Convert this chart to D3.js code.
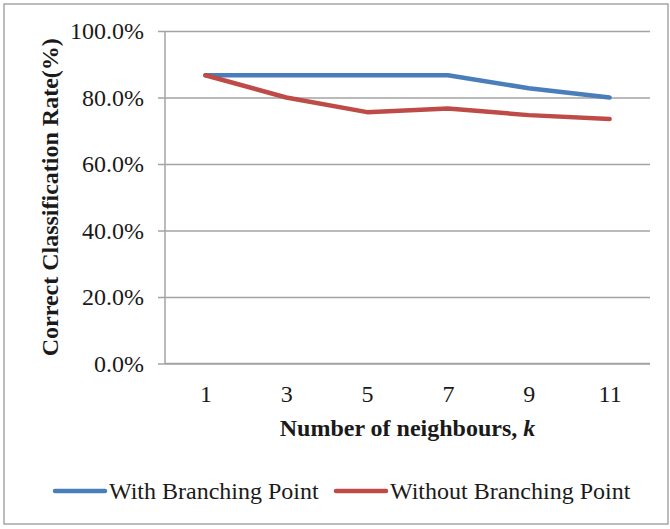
<!DOCTYPE html>
<html>
<head>
<meta charset="utf-8">
<script src="https://cdn.jsdelivr.net/npm/d3@7"></script>
<style>
  html, body { margin: 0; padding: 0; background: #fff; }
  svg { display: block; }
  text { font-family: "Liberation Serif", "Times New Roman", serif; fill: #1a1a1a; }
</style>
</head>
<body>
<svg id="chart" width="670" height="529"></svg>
<script>
// Classification rate versus number of neighbours k
const kValues = ["1", "3", "5", "7", "9", "11"];
const withBranching = [0.867, 0.867, 0.867, 0.867, 0.828, 0.800];
const withoutBranching = [0.867, 0.800, 0.756, 0.767, 0.747, 0.735];
const yTicks = [0, 0.2, 0.4, 0.6, 0.8, 1.0];
const seriesNames = ["With Branching Point", "Without Branching Point"];
const seriesColors = ["#4a7ebb", "#be4b48"];

const svg = d3.select("#chart");
const plot = { left: 165, right: 650, top: 31, bottom: 363.5 };
const gridColor = "#a3a3a3";

// outer frame
svg.append("rect")
  .attr("x", 4).attr("y", 4)
  .attr("width", 664).attr("height", 520)
  .attr("fill", "#fff")
  .attr("stroke", "#a6a6a6")
  .attr("stroke-width", 1.5);

const x = d3.scalePoint().domain(kValues).range([plot.left, plot.right]).padding(0.5);
const y = d3.scaleLinear().domain([0, 1]).range([plot.bottom, plot.top]);

// horizontal gridlines with short outward ticks
const yAxis = d3.axisLeft(y)
  .tickValues(yTicks)
  .tickSizeInner(-(plot.right - plot.left))
  .tickSizeOuter(0)
  .tickFormat(d3.format(".1%"))
  .tickPadding(14);
const gy = svg.append("g").attr("transform", `translate(${plot.left},0)`).call(yAxis);
gy.select(".domain").remove();
gy.selectAll(".tick line")
  .attr("x1", -7)
  .attr("stroke", gridColor)
  .attr("stroke-width", 1.5);
gy.selectAll(".tick text")
  .attr("x", 144 - plot.left)
  .attr("font-size", 24)
  .attr("font-family", "Liberation Serif, Times New Roman, serif")
  .attr("fill", "#1a1a1a");

// vertical axis line
svg.append("line")
  .attr("x1", plot.left).attr("x2", plot.left)
  .attr("y1", plot.top).attr("y2", plot.bottom)
  .attr("stroke", gridColor).attr("stroke-width", 1.5);

// category axis
const xAxis = d3.axisBottom(x).tickSize(0).tickPadding(0);
const gx = svg.append("g").attr("transform", `translate(0,${plot.bottom})`).call(xAxis);
gx.select(".domain")
  .attr("d", `M${plot.left},0H${plot.right}`)
  .attr("stroke", gridColor).attr("stroke-width", 1.5);
gx.selectAll(".tick text")
  .attr("y", 38.5)
  .attr("dy", 0)
  .attr("font-size", 24)
  .attr("font-family", "Liberation Serif, Times New Roman, serif")
  .attr("fill", "#1a1a1a");

// series lines
const line = d3.line()
  .x((d, i) => x(kValues[i]))
  .y(d => y(d));
[withBranching, withoutBranching].forEach((vals, s) => {
  svg.append("path")
    .datum(vals)
    .attr("d", line)
    .attr("fill", "none")
    .attr("stroke", seriesColors[s])
    .attr("stroke-width", 4.5)
    .attr("stroke-linejoin", "round")
    .attr("stroke-linecap", "round");
});

// axis titles
const xTitle = svg.append("text")
  .attr("x", (plot.left + plot.right) / 2)
  .attr("y", 436)
  .attr("text-anchor", "middle")
  .attr("font-size", 24)
  .attr("font-weight", "bold");
xTitle.append("tspan").text("Number of neighbours, ");
xTitle.append("tspan").attr("font-style", "italic").text("k");

svg.append("text")
  .attr("transform", `translate(58,${(plot.top + plot.bottom) / 2}) rotate(-90)`)
  .attr("text-anchor", "middle")
  .attr("font-size", 24)
  .attr("font-weight", "bold")
  .text("Correct Classification Rate(%)");

// legend
const legendX = [55, 336];
seriesNames.forEach((name, s) => {
  const g = svg.append("g").attr("transform", `translate(${legendX[s]},491)`);
  g.append("line")
    .attr("x1", 0).attr("x2", 50)
    .attr("stroke", seriesColors[s])
    .attr("stroke-width", 4.5)
    .attr("stroke-linecap", "round");
  g.append("text")
    .attr("x", 54)
    .attr("y", 8)
    .attr("font-size", 24)
    .text(name);
});
</script>
</body>
</html>
